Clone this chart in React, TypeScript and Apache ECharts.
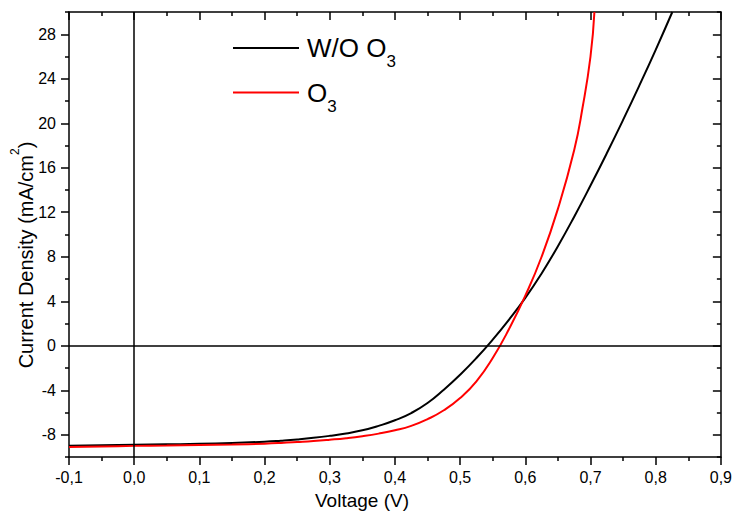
import React, { useEffect, useRef } from "react";
import * as echarts from "echarts";

const voltageBlack = [
  -0.1, -0.05, 0, 0.05, 0.1, 0.15, 0.2, 0.225, 0.25, 0.275, 0.3, 0.325, 0.35, 0.375, 0.4, 0.425, 0.45, 0.475,
  0.5, 0.525, 0.55, 0.575, 0.6, 0.625, 0.65, 0.675, 0.7, 0.725, 0.75, 0.775, 0.8, 0.8255,
];
const currentBlack = [
  -8.98, -8.94, -8.9, -8.86, -8.82, -8.74, -8.62, -8.53, -8.42, -8.28, -8.1, -7.88, -7.6, -7.2, -6.7, -6.05, -5.15, -3.95,
  -2.6, -1.1, 0.55, 2.35, 4.3, 6.5, 8.95, 11.6, 14.4, 17.3, 20.3, 23.4, 26.6, 30,
];

const voltageRed = [
  -0.1, -0.05, 0, 0.05, 0.1, 0.15, 0.2, 0.225, 0.25, 0.275, 0.3, 0.325, 0.35, 0.375, 0.4, 0.425, 0.45, 0.475,
  0.5, 0.525, 0.55, 0.575, 0.6, 0.625, 0.65, 0.675, 0.6875, 0.7, 0.706,
];
const currentRed = [
  -9.1, -9.05, -9.0, -8.97, -8.93, -8.88, -8.8, -8.74, -8.66, -8.57, -8.45, -8.31, -8.13, -7.9, -7.6, -7.2, -6.6, -5.8,
  -4.7, -3.2, -1.1, 1.5, 4.5, 8.0, 12.3, 17.6, 21.3, 26.0, 30,
];

const yMajorTicks = [-8, -4, 0, 4, 8, 12, 16, 20, 24, 28];
const yMinorTicks = [-10, -6, -2, 2, 6, 10, 14, 18, 22, 26, 30];

const seriesNames = ["W/O O3", "O3"];
const FONT = "'Liberation Sans', Arial, sans-serif";

const zip = (xs: number[], ys: number[]) => xs.map((x, i) => [x, ys[i]]);

export default function App() {
  const ref = useRef<HTMLDivElement>(null);
  useEffect(() => {
    if (!ref.current) return;
    const chart = echarts.init(ref.current, null, { renderer: "svg" });
    const axisLineStyle = { color: "#000", width: 1.5 };
    const xCommon = {
      type: "value" as const,
      min: -0.1,
      max: 0.9,
      interval: 0.1,
      splitLine: { show: false },
      minorSplitLine: { show: false },
    };
    const yCommon = {
      type: "value" as const,
      min: -10,
      max: 30,
      interval: 2,
      splitLine: { show: false },
    };
    chart.setOption({
      animation: false,
      backgroundColor: "#fff",
      grid: { left: 69, right: 11, top: 12, bottom: 56, containLabel: false },
      xAxis: [
        {
          ...xCommon,
          position: "bottom",
          axisLine: { show: true, onZero: false, lineStyle: axisLineStyle },
          axisTick: { show: true, inside: false, length: 8, lineStyle: axisLineStyle },
          minorTick: { show: true, splitNumber: 2, length: 4, lineStyle: axisLineStyle },
          axisLabel: {
            color: "#000",
            fontSize: 16,
            fontFamily: FONT,
            margin: 12,
            formatter: (v: number) => v.toFixed(1).replace(".", ","),
          },
        },
        {
          ...xCommon,
          position: "top",
          axisLine: { show: true, onZero: false, lineStyle: axisLineStyle },
          axisTick: { show: true, inside: true, length: 8, lineStyle: axisLineStyle },
          minorTick: { show: true, splitNumber: 2, length: 4, lineStyle: axisLineStyle },
          axisLabel: { show: false },
        },
      ],
      yAxis: [
        {
          ...yCommon,
          position: "left",
          axisLine: { show: true, onZero: false, lineStyle: axisLineStyle },
          axisTick: { show: true, inside: false, length: 8, lineStyle: axisLineStyle, customValues: yMajorTicks },
          axisLabel: {
            color: "#000",
            fontSize: 16,
            fontFamily: FONT,
            margin: 13,
            customValues: yMajorTicks,
            formatter: (v: number) => String(v),
          },
        },
        {
          ...yCommon,
          position: "left",
          axisLine: { show: false, onZero: false },
          axisTick: { show: true, inside: false, length: 4, lineStyle: axisLineStyle, customValues: yMinorTicks },
          axisLabel: { show: false },
        },
        {
          ...yCommon,
          position: "right",
          axisLine: { show: true, onZero: false, lineStyle: axisLineStyle },
          axisTick: { show: true, inside: true, length: 8, lineStyle: axisLineStyle, customValues: yMajorTicks },
          axisLabel: { show: false },
        },
        {
          ...yCommon,
          position: "right",
          axisLine: { show: false, onZero: false },
          axisTick: { show: true, inside: true, length: 4, lineStyle: axisLineStyle, customValues: yMinorTicks },
          axisLabel: { show: false },
        },
      ],
      series: [
        {
          name: seriesNames[0],
          type: "line",
          xAxisIndex: 0,
          yAxisIndex: 0,
          data: zip(voltageBlack, currentBlack),
          showSymbol: false,
          smooth: 0.5,
          lineStyle: { color: "#000", width: 2 },
          itemStyle: { color: "#000" },
          markLine: {
            silent: true,
            symbol: "none",
            label: { show: false },
            lineStyle: { color: "#000", width: 1.5, type: "solid" },
            data: [{ xAxis: 0 }, { yAxis: 0 }],
          },
          z: 3,
        },
        {
          name: seriesNames[1],
          type: "line",
          xAxisIndex: 0,
          yAxisIndex: 0,
          data: zip(voltageRed, currentRed),
          showSymbol: false,
          smooth: 0.5,
          lineStyle: { color: "#ff0000", width: 2 },
          itemStyle: { color: "#ff0000" },
          z: 4,
        },
      ],
      graphic: [
        { type: "line", shape: { x1: 233, y1: 48, x2: 299, y2: 48 }, style: { stroke: "#000", lineWidth: 2 } },
        {
          type: "text",
          x: 307,
          y: 48,
          style: {
            text: "W/O O{sub|3}",
            fill: "#000",
            fontSize: 26,
            fontFamily: FONT,
            lineHeight: 44,
            align: "left",
            verticalAlign: "middle",
            rich: { sub: { fontSize: 17, lineHeight: 17, verticalAlign: "bottom", fontFamily: FONT, fill: "#000" } },
          },
        },
        { type: "line", shape: { x1: 233, y1: 92.5, x2: 299, y2: 92.5 }, style: { stroke: "#ff0000", lineWidth: 2 } },
        {
          type: "text",
          x: 307,
          y: 92.5,
          style: {
            text: "O{sub|3}",
            fill: "#000",
            fontSize: 26,
            fontFamily: FONT,
            lineHeight: 44,
            align: "left",
            verticalAlign: "middle",
            rich: { sub: { fontSize: 17, lineHeight: 17, verticalAlign: "bottom", fontFamily: FONT, fill: "#000" } },
          },
        },
        {
          type: "text",
          x: 362,
          y: 500,
          style: {
            text: "Voltage (V)",
            fill: "#000",
            fontSize: 19,
            fontFamily: FONT,
            align: "center",
            verticalAlign: "middle",
          },
        },
        {
          type: "text",
          x: 26,
          y: 255,
          rotation: Math.PI / 2,
          style: {
            text: "Current Density (mA/cm{sup|2})",
            fill: "#000",
            fontSize: 20,
            fontFamily: FONT,
            lineHeight: 34,
            align: "center",
            verticalAlign: "middle",
            rich: { sup: { fontSize: 12, lineHeight: 12, verticalAlign: "top", fontFamily: FONT, fill: "#000" } },
          },
        },
      ],
    });
    return () => chart.dispose();
  }, []);
  return <div ref={ref} style={{ position: "fixed", left: 0, top: 0, width: 735, height: 513 }} />;
}
